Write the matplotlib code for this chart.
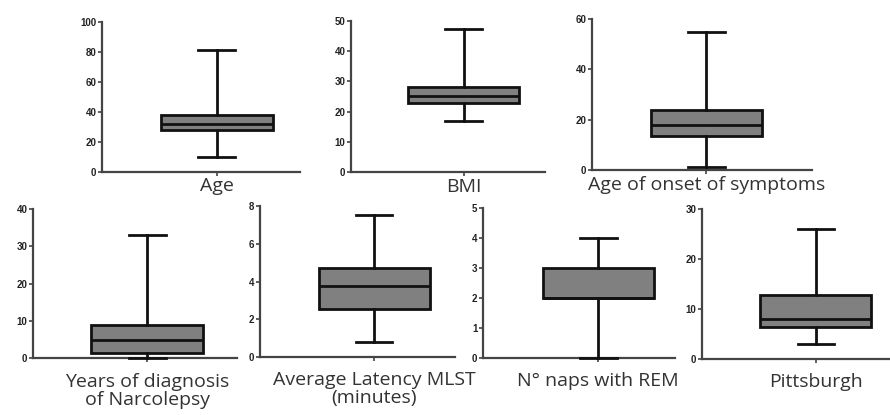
import matplotlib
matplotlib.use("Agg")
import matplotlib.pyplot as plt

# five-number summaries: min, q1, median, q3, max
labels = ["Age", "BMI", "Age of onset of symptoms",
          "Years of diagnosis\nof Narcolepsy", "Average Latency MLST\n(minutes)",
          "N° naps with REM", "Pittsburgh"]
mins = [10, 17, 1, 0, 0.8, 0, 3]
q1s = [28, 23, 13.5, 1.3, 2.55, 2, 6.5]
medians = [32, 25, 18, 4.8, 3.75, 2, 8]
q3s = [38, 28, 24, 8.8, 4.7, 3, 12.8]
maxs = [81, 47.5, 55, 33, 7.5, 4, 26]
ymax = [100, 50, 60, 40, 8, 5, 30]
ystep = [20, 10, 20, 10, 2, 1, 10]

W, H = 890, 415
# axes frame in pixels: left, right, y of top tick, y of zero
frames = [(102, 300, 22, 172), (351, 545, 21, 172), (592, 812, 19, 170),
          (33, 237, 209, 358), (260, 455, 206, 357), (483, 675, 208, 358),
          (702, 890, 209, 359)]
centers = [0.58, 0.58, 0.52, 0.56, 0.585, 0.60, 0.606]
widths = [0.566, 0.57, 0.505, 0.55, 0.57, 0.58, 0.59]
label_pad = [0.5, 1.5, 1, 8, 7, 7, 7]

fig = plt.figure(figsize=(W / 100, H / 100), dpi=100)
fig.patch.set_facecolor("white")

for i in range(len(labels)):
    l, r, t, b = frames[i]
    ax = fig.add_axes([l / W, 1 - b / H, (r - l) / W, (b - t) / H])
    stats = [{"whislo": mins[i], "q1": q1s[i], "med": medians[i],
              "q3": q3s[i], "whishi": maxs[i], "fliers": []}]
    ax.bxp(stats, positions=[centers[i]], widths=widths[i],
           capwidths=widths[i] * 0.33, patch_artist=True,
           boxprops=dict(facecolor="#808080", edgecolor="#111111", linewidth=2.0),
           medianprops=dict(color="#111111", linewidth=2.0),
           whiskerprops=dict(color="#111111", linewidth=2.0),
           capprops=dict(color="#111111", linewidth=2.0))
    ax.set_xlim(0, 1)
    ax.set_ylim(0, ymax[i])
    ax.set_yticks(range(0, ymax[i] + 1, ystep[i]))
    ax.set_xticks([centers[i]])
    ax.set_xticklabels([labels[i]], fontsize=14, family="Open Sans",
                       color="#333333", linespacing=1.0)
    for side in ["top", "right"]:
        ax.spines[side].set_visible(False)
    for side in ["left", "bottom"]:
        ax.spines[side].set_linewidth(1.6)
        ax.spines[side].set_color("#444444")
    ax.spines["bottom"].set_zorder(0)
    ax.tick_params(axis="y", length=3, width=1.2, color="#444444", pad=1,
                   labelsize=7, labelcolor="#222222")
    ax.tick_params(axis="x", length=3, width=1.2, color="#444444",
                   pad=label_pad[i])
    for lab in ax.get_yticklabels():
        lab.set_fontweight("bold")
        lab.set_family("Liberation Sans")
    ax.set_facecolor("none")
    for art in ax.get_children():
        art.set_clip_on(False)

fig.savefig("out.png", dpi=100)
